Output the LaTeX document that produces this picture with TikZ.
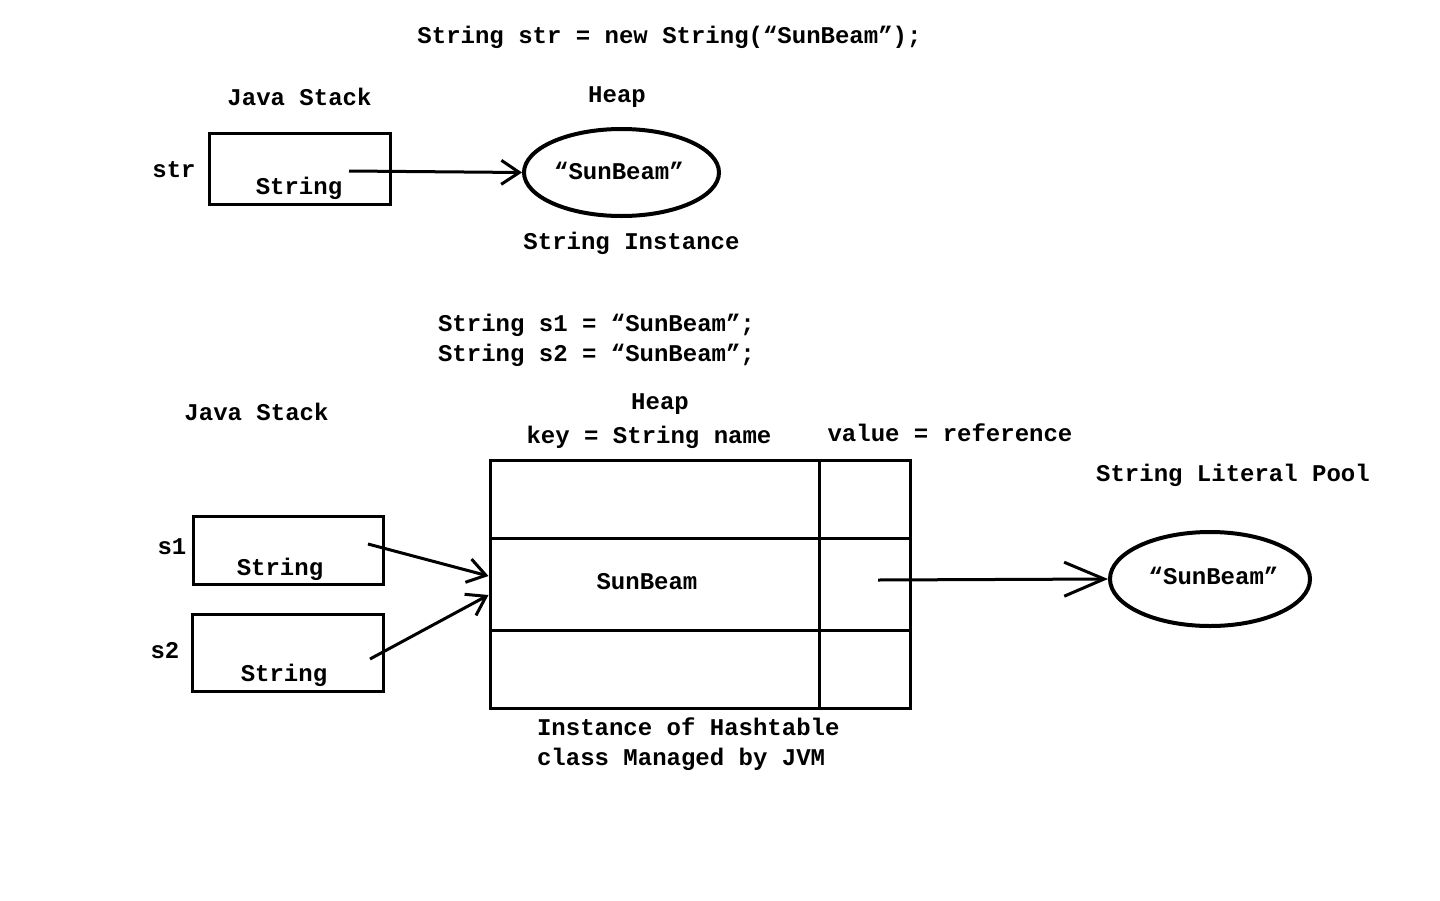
\documentclass[tikz,border=0pt]{standalone}
\usepackage{fontspec}
\setmainfont{Liberation Mono}
\usetikzlibrary{shapes.geometric,arrows.meta}

\begin{document}
\begin{tikzpicture}[x=0.5pt,y=-0.5pt,font=\fontsize{12}{15}\selectfont\bfseries]

	\def\keyw{164.5pt}
	\def\valw{45.5pt}
	\def\keyx{654.5}
	\def\valx{864.5}

	% Colours
	\colorlet{linecolor}{black}

	% Styles
	\tikzstyle{varbox}=[draw=linecolor, line width=1.5pt, inner sep=0pt]
	\tikzstyle{cell}=[draw=linecolor, line width=1.5pt, inner sep=0pt]
	\tikzstyle{object}=[draw=linecolor, ellipse, line width=2pt, inner sep=0pt]
	\tikzstyle{refline}=[linecolor, line width=1.5pt, -{Straight Barb[length=9pt,width=12pt]}]
	\tikzstyle{poolline}=[linecolor, line width=1.5pt, -{Straight Barb[length=20pt,width=17pt]}]

	\useasboundingbox (0,0) rectangle (1440,900);

	%== new String() =========================================================
	\node (title1) at (669.5,37) {String str = new String(“SunBeam”);};

	\node (stack1) at (299.5,97) {Java Stack};
	\node (heap1) at (617,97) {Heap};

	% Stack variable
	\node[varbox, minimum width=90.5pt, minimum height=35.5pt] (strbox) at (299.5,168.5) {};
	\node (strname) at (174,170) {str};
	\node (strtype) at (299,188) {String};
	\coordinate (strref) at (349,171);

	% Heap object
	\node[object, minimum width=97.5pt, minimum height=43.5pt] (strobj) at (621.5,172.5) {};
	\node (strtext) at (619,171) {“SunBeam”};
	\node (strinst) at (631.5,243) {String Instance};

	\draw[refline] (strref) -- (strobj.west);

	%== String literals =======================================================
	\node[anchor=west, align=left] (title2) at (431,340)
		{String s1 = “SunBeam”;\\String s2 = “SunBeam”;};

	\node (stack2) at (256.5,412) {Java Stack};
	\node (heap2) at (660,404) {Heap};
	\node (keyhead) at (649,437) {key = String name};
	\node (valhead) at (950,433) {value = reference};
	\node (pool) at (1233,475) {String Literal Pool};

	% Stack variables
	\node[varbox, minimum width=95pt, minimum height=34pt] (s1box) at (288,550) {};
	\node (s1name) at (172,547) {s1};
	\node (s1type) at (280,569) {String};
	\coordinate (s1ref) at (368,544);

	\node[varbox, minimum width=95.5pt, minimum height=38.5pt] (s2box) at (287.5,652.5) {};
	\node (s2name) at (165,651) {s2};
	\node (s2type) at (284,675) {String};
	\coordinate (s2ref) at (370,659);

	% Hashtable
	\foreach \n/\y/\h in {1/499/39pt, 2/584/46pt, 3/669/39pt} {
		\node[cell, minimum width=\keyw, minimum height=\h] (key\n) at (\keyx,\y) {};
		\node[cell, minimum width=\valw, minimum height=\h] (val\n) at (\valx,\y) {};
	}
	\node (keytext) at (647,582) {SunBeam};
	\coordinate (valref) at (878,580);

	\node[anchor=west, align=left] (hashinst) at (530,744)
		{Instance of Hashtable\\class Managed by JVM};

	% Pool object
	\node[object, minimum width=100pt, minimum height=47pt] (poolobj) at (1210,579) {};
	\node (pooltext) at (1213.5,576) {“SunBeam”};

	% References
	\draw[refline] (s1ref) -- ([yshift=4pt]key2.west);
	\draw[refline] (s2ref) -- ([yshift=-5.5pt]key2.west);
	\draw[poolline] (valref) -- (poolobj.west);

\end{tikzpicture}
\end{document}
